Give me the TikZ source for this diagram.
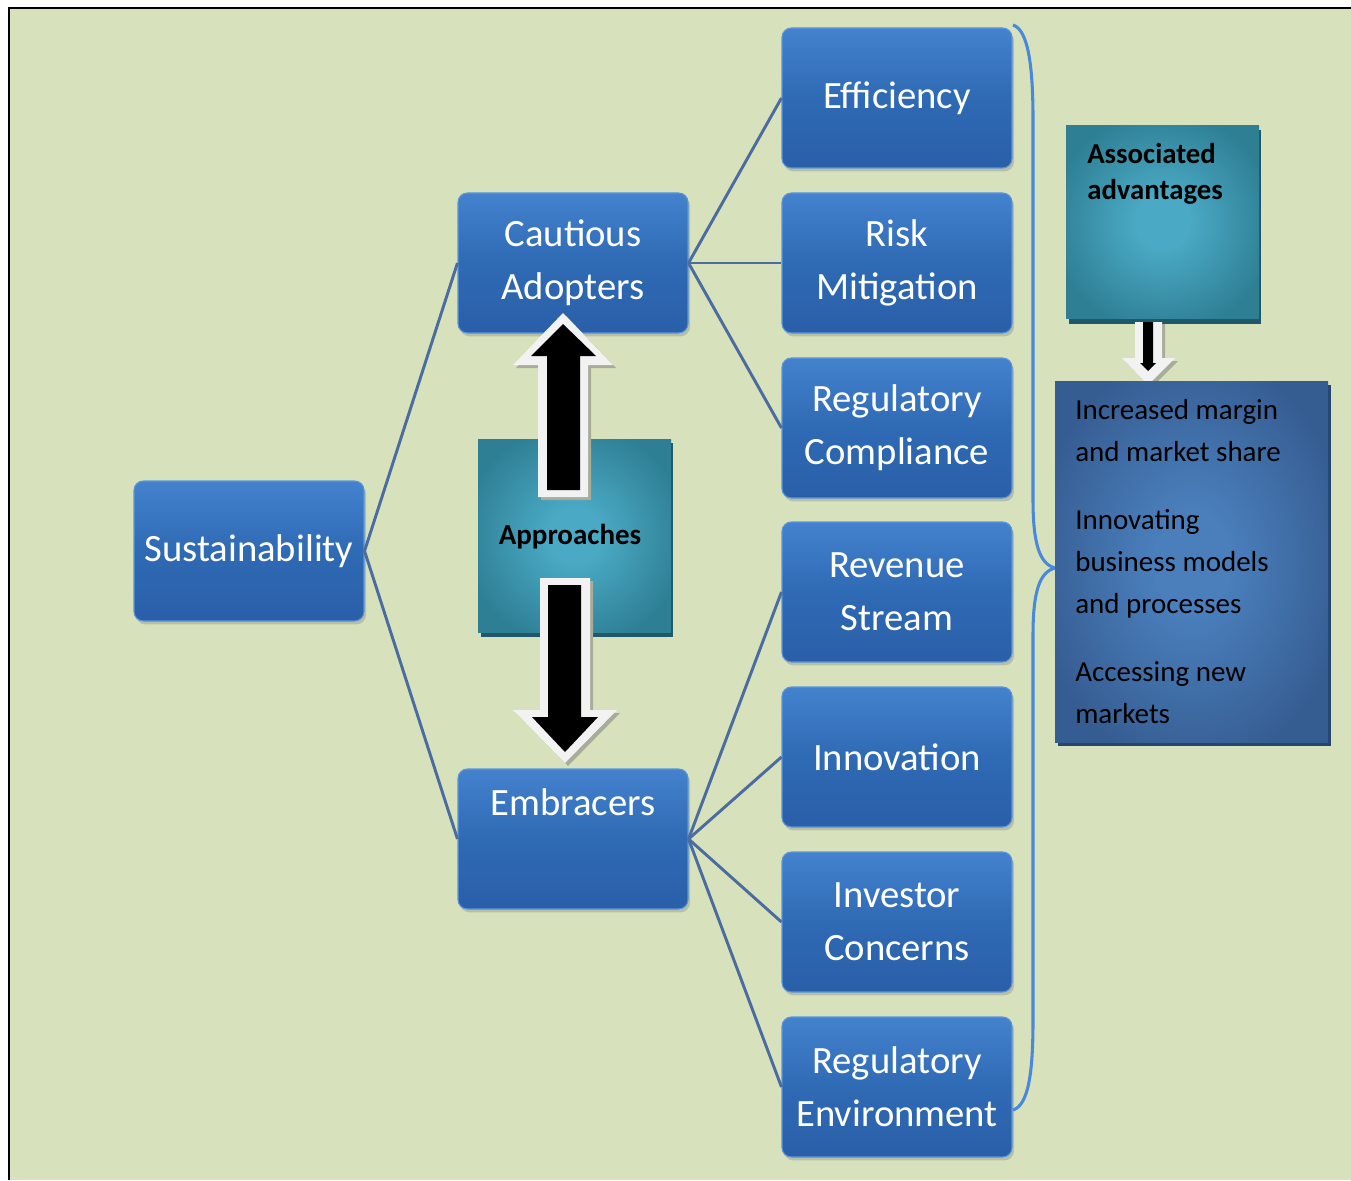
\documentclass[tikz,border=0pt]{standalone}
\usepackage{fontspec}
\setmainfont{Carlito}
\usetikzlibrary{shadows}
\definecolor{bg}{HTML}{D7E2BC}
\definecolor{boxtop}{HTML}{4482CE}
\definecolor{boxmid}{HTML}{2F6AB4}
\definecolor{boxbot}{HTML}{2A5FA8}
\definecolor{boxrim}{HTML}{5A96DC}
\definecolor{linkc}{HTML}{4A6C9E}
\definecolor{tealin}{HTML}{4AA9C4}
\definecolor{tealout}{HTML}{2E7F94}
\definecolor{tealsh}{HTML}{1F5868}
\definecolor{advin}{HTML}{4A7FBC}
\definecolor{advout}{HTML}{365D92}
\definecolor{advsh}{HTML}{27456E}
\definecolor{bracec}{HTML}{4A88DA}
\definecolor{arrw}{HTML}{F2F2F2}
\definecolor{arrsh}{HTML}{A8AC98}
\pgfdeclareradialshading{tealshade}{\pgfpoint{0bp}{0bp}}{color(0bp)=(tealin); color(7bp)=(tealin); color(29bp)=(tealout); color(50bp)=(tealout)}
\pgfdeclareradialshading{advshade}{\pgfpoint{0bp}{0bp}}{color(0bp)=(advin); color(7bp)=(advin); color(29bp)=(advout); color(50bp)=(advout)}
\tikzset{
  bbox/.style={rectangle, rounded corners=7pt, minimum width=172.5pt, minimum height=105pt,
    top color=boxtop, bottom color=boxbot, middle color=boxmid, draw=boxrim, line width=0.8pt,
    drop shadow={shadow xshift=1.5pt, shadow yshift=-2.5pt, opacity=0.35},
    text=white, font=\fontsize{29}{40}\selectfont, align=center, inner sep=0pt},
  btxt/.style={text=white, font=\fontsize{29}{40}\selectfont, inner sep=0pt},
  link/.style={draw=linkc, line width=2.2pt},
  tealbox/.style={rectangle, shading=tealshade, inner sep=0pt},
  advbox/.style={rectangle, shading=advshade, inner sep=0pt},
  bracepath/.style={draw=bracec, line width=2.3pt},
  arrout/.style={fill=arrw},
  arrin/.style={fill=black},
  arrshadow/.style={fill=arrsh},
}
\begin{document}
\begin{tikzpicture}[x=0.75pt,y=-0.75pt]
\useasboundingbox (0,0) rectangle (1351,1180);
\fill[white] (0,0) rectangle (1351,1180);
\fill[bg] (10,9) rectangle (1351,1180);
\draw[line width=1.5pt] (9,1180) -- (9,8) -- (1351,8);

% nodes
\node[bbox] (sus) at (249,551) {Sustainability};
\node[bbox] (caut) at (573,263) {Cautious\\Adopters};
\node[bbox] (embr) at (573,839) {};
\node[bbox] (eff) at (897,98) {Efficiency};
\node[bbox] (risk) at (897,263) {Risk\\Mitigation};
\node[bbox] (regc) at (897,428) {Regulatory\\Compliance};
\node[bbox] (rev) at (897,592) {Revenue\\Stream};
\node[bbox] (inno) at (897,757) {Innovation};
\node[bbox] (inv) at (897,922) {Investor\\Concerns};
\node[bbox] (rege) at (897,1087) {Regulatory\\Environment};
\node[btxt] (embrt) at (573,802) {Embracers};

% connectors
\draw[link] (sus.east) -- (caut.west);
\draw[link] (sus.east) -- (embr.west);
\draw[link] (caut.east) -- (eff.west);
\draw[link] (caut.east) -- (risk.west);
\draw[link] (caut.east) -- (regc.west);
\draw[link] (embr.east) -- (rev.west);
\draw[link] (embr.east) -- (inno.west);
\draw[link] (embr.east) -- (inv.west);
\draw[link] (embr.east) -- (rege.west);

% approaches box
\fill[tealsh] (481,443) rectangle (673,637);
\node[tealbox, minimum width=144.75pt, minimum height=144.75pt] (appr) at (574.5,535.5) {};
\node[font=\bfseries\fontsize{21.75}{26}\selectfont, inner sep=0pt] (apprt) at (570,537) {Approaches};

% up arrow
\fill[arrshadow] (566,316) -- (616,368) -- (591,368) -- (591,500) -- (541,500) -- (541,368) -- (516,368) -- cycle;
\fill[arrout] (563,313) -- (613,365) -- (588,365) -- (588,497) -- (538,497) -- (538,365) -- (513,365) -- cycle;
\fill[arrin] (563,324) -- (596,356) -- (580,356) -- (580,490) -- (547,490) -- (547,356) -- (531,356) -- cycle;
% down arrow
\fill[arrshadow] (543,581) -- (593,581) -- (593,713) -- (620,713) -- (568,766) -- (516,713) -- (543,713) -- cycle;
\fill[arrout] (540,578) -- (590,578) -- (590,710) -- (617,710) -- (565,763) -- (513,710) -- (540,710) -- cycle;
\fill[arrin] (548,585) -- (581,585) -- (581,717) -- (598,717) -- (565,752) -- (532,717) -- (548,717) -- cycle;

% brace
\draw[bracepath] (1013,25) .. controls (1029,30) and (1033,70) .. (1033,120) -- (1033,500)
  .. controls (1033,545) and (1040,564) .. (1055,568)
  .. controls (1040,572) and (1033,590) .. (1033,635) -- (1033,1020)
  .. controls (1033,1070) and (1029,1105) .. (1013,1110);

% associated advantages box
\fill[tealsh] (1069,130) rectangle (1261,324);
\node[tealbox, minimum width=144.75pt, minimum height=144pt] (assoc) at (1162.5,222) {};
\node[font=\bfseries\fontsize{21.6}{27}\selectfont, inner sep=0pt, align=left, anchor=west] (assoct) at (1087,174) {Associated\\advantages};

% small arrow
\fill[arrshadow] (1138,324) -- (1165,324) -- (1165,361) -- (1178,361) -- (1151,388) -- (1125,361) -- (1138,361) -- cycle;
\fill[arrout] (1135,322) -- (1162,322) -- (1162,358) -- (1175,358) -- (1148,385) -- (1122,358) -- (1135,358) -- cycle;
\fill[arrin] (1143,322) -- (1153,322) -- (1153,363) -- (1156,363) -- (1148,371) -- (1140,363) -- (1143,363) -- cycle;

% advantages box
\fill[advsh] (1058,385) rectangle (1331,746);
\node[advbox, minimum width=204.75pt, minimum height=270.75pt] (adv) at (1191.5,561.5) {};
\node[font=\fontsize{21.75}{31.5}\selectfont, inner sep=0pt, align=left, anchor=north west] (advt) at (1075,399)
 {Increased margin\\and market share\\[19.5pt]Innovating\\business models\\and processes\\[19.5pt]Accessing new\\markets};
\end{tikzpicture}
\end{document}
